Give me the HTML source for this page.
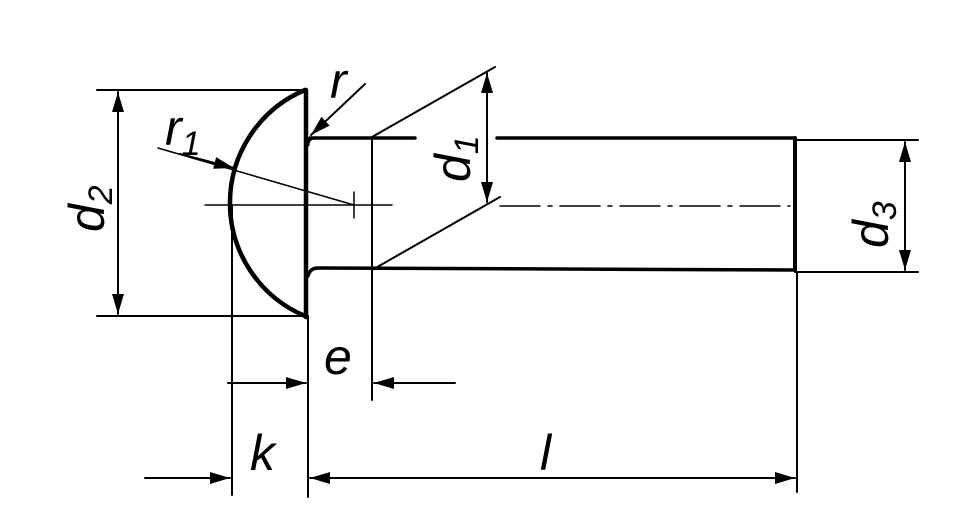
<!DOCTYPE html>
<html><head><style>html,body{margin:0;padding:0;background:#fff}svg{display:block}</style></head><body>
<svg width="955" height="531" viewBox="0 0 955 531" xmlns="http://www.w3.org/2000/svg">
<defs>
<marker id="a" viewBox="0 0 10 6" refX="10" refY="3" markerWidth="32" markerHeight="12" markerUnits="userSpaceOnUse" orient="auto"><path d="M0,0 L10,3 L0,6 Z" fill="#000"/></marker>
</defs>
<g stroke="#000" fill="none" stroke-linecap="round">
<!-- head -->
<path d="M305,90 A122.6,122.6 0 0 0 305,316" stroke-width="4.5"/>
<line x1="306" y1="90" x2="306" y2="317" stroke-width="4.5"/>
<!-- shank -->
<path d="M310,138 L415,138 M497,138 L795,138" stroke-width="3.5"/>
<path d="M308,276 Q310,268 318,268 L795,270" stroke-width="3.5"/>
<path d="M308,145 Q308,138 315,138" stroke-width="3"/>
<line x1="795" y1="138" x2="795" y2="270" stroke-width="4"/>
<g stroke-width="2">
<line x1="97" y1="90" x2="306" y2="90"/>
<line x1="97" y1="316" x2="306" y2="316"/>
<line x1="795" y1="140" x2="918" y2="140"/>
<line x1="795" y1="272" x2="918" y2="272"/>
<line x1="372" y1="140" x2="372" y2="400"/>
<line x1="232" y1="205" x2="232" y2="495"/>
<line x1="308" y1="316" x2="308" y2="497"/>
<line x1="797" y1="272" x2="797" y2="492"/>
<line x1="372" y1="137" x2="495" y2="67"/>
<line x1="372" y1="270" x2="500" y2="197"/>
</g>
<g stroke-width="1.5">
<line x1="205" y1="205" x2="392" y2="205"/>
<line x1="500" y1="206" x2="790" y2="206" stroke-dasharray="40,8,4,8"/>
<line x1="354" y1="192" x2="354" y2="218"/>
<line x1="158" y1="148" x2="354" y2="205"/>
</g>
<g stroke-width="2">
<line x1="118" y1="200" x2="118" y2="92" marker-end="url(#a)"/>
<line x1="118" y1="200" x2="118" y2="314" marker-end="url(#a)"/>
<line x1="487" y1="135" x2="487" y2="73" marker-end="url(#a)"/>
<line x1="487" y1="135" x2="487" y2="202" marker-end="url(#a)"/>
<line x1="905" y1="205" x2="905" y2="142" marker-end="url(#a)"/>
<line x1="905" y1="205" x2="905" y2="270" marker-end="url(#a)"/>
<line x1="228" y1="383" x2="306" y2="383" marker-end="url(#a)"/>
<line x1="455" y1="383" x2="374" y2="383" marker-end="url(#a)"/>
<line x1="145" y1="478" x2="230" y2="478" marker-end="url(#a)"/>
<line x1="550" y1="478" x2="310" y2="478" marker-end="url(#a)"/>
<line x1="550" y1="478" x2="795" y2="478" marker-end="url(#a)"/>
<line x1="180" y1="154" x2="234" y2="168" marker-end="url(#a)"/>
<line x1="365" y1="84" x2="311" y2="135" marker-end="url(#a)"/>
</g>
</g>
<g font-family="Liberation Sans, sans-serif" font-style="italic" font-size="50" fill="#000">
<text transform="translate(104,232) rotate(-90)">d<tspan font-size="34" dy="8">2</tspan></text>
<text transform="translate(470,182) rotate(-90)">d<tspan font-size="34" dy="8">1</tspan></text>
<text transform="translate(888,248) rotate(-90)">d<tspan font-size="34" dy="8">3</tspan></text>
<text x="165" y="145">r<tspan font-size="34" dy="10">1</tspan></text>
<text x="330" y="98">r</text>
<text x="324" y="374">e</text>
<text x="250" y="470">k</text>
<text x="540" y="470">l</text>
</g>
</svg>
</body></html>
